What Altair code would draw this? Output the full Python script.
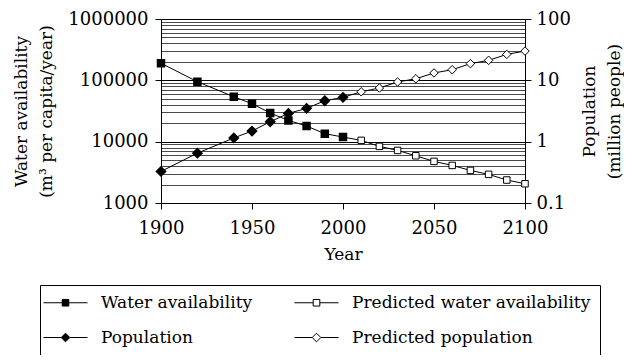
import altair as alt
import pandas as pd

# ---- data ----
hist_years = [1900, 1920, 1940, 1950, 1960, 1970, 1980, 1990, 2000]
pred_years = [2010, 2020, 2030, 2040, 2050, 2060, 2070, 2080, 2090, 2100]
water_hist = [190000, 95000, 54000, 41600, 29300, 22200, 18000, 13500, 11900]
water_pred = [10500, 8380, 7200, 5890, 4770, 4100, 3400, 2930, 2370, 2060]
pop_hist = [0.327, 0.65, 1.15, 1.49, 2.11, 2.89, 3.49, 4.65, 5.28]
pop_pred = [6.5, 7.5, 9.4, 10.6, 13.2, 14.9, 18.7, 21.2, 26.5, 30.0]
series_names = ["Water availability", "Predicted water availability",
                "Population", "Predicted population"]
x_ticks = [1900, 1950, 2000, 2050, 2100]
water_major = [1000, 10000, 100000, 1000000]
pop_ticks = [0.1, 1, 10, 100]

FONT = "DejaVu Serif"
FS = 18
TFS = 17

water = pd.DataFrame({
    "year": hist_years + pred_years,
    "value": water_hist + water_pred,
    "kind": ["hist"] * len(hist_years) + ["pred"] * len(pred_years),
})
pop = pd.DataFrame({
    "year": hist_years + pred_years,
    "value": pop_hist + pop_pred,
    "kind": ["hist"] * len(hist_years) + ["pred"] * len(pred_years),
})

water_grid_vals = [m * 10 ** e for e in range(3, 6) for m in range(1, 10)] + [1000000]
MAJ = "indexof([" + ",".join(str(v) for v in water_major) + "], datum.value) >= 0"

x_enc = alt.X(
    "year:Q",
    scale=alt.Scale(domain=[1900, 2100], nice=False, zero=False),
    axis=alt.Axis(values=x_ticks, format="d", title="Year", grid=False,
                  labelFont=FONT, labelFontSize=FS, labelColor="black",
                  titleFont=FONT, titleFontSize=TFS, titleFontWeight="normal",
                  titleColor="black", domainColor="black", tickColor="black",
                  tickSize=6, labelPadding=10, titlePadding=9, labelFlush=False),
)

y_water = alt.Y(
    "value:Q",
    scale=alt.Scale(type="log", domain=[1000, 1000000], nice=False),
    axis=alt.Axis(
        orient="left", values=water_grid_vals, format="d",
        labelExpr=MAJ + " ? datum.label : ''", labelOverlap=False,
        grid=True,
        gridColor={"condition": {"test": MAJ, "value": "black"}, "value": "#4a4a4a"},
        gridWidth=1,
        tickOpacity={"condition": {"test": MAJ, "value": 1}, "value": 0},
        tickColor="black", tickSize=6, domainColor="black",
        labelFont=FONT, labelFontSize=FS, labelColor="black", labelPadding=7,
        title=["Water availability", "(m³ per capita/year)"],
        titleFont=FONT, titleFontSize=TFS, titleFontWeight="normal",
        titleColor="black", titlePadding=12, titleLineHeight=25,
    ),
)

y_pop = alt.Y(
    "value:Q",
    scale=alt.Scale(type="log", domain=[0.1, 100], nice=False),
    axis=alt.Axis(
        orient="right", values=pop_ticks, format="~g", grid=False,
        labelOverlap=False, tickColor="black", tickSize=6, domainColor="black",
        labelFont=FONT, labelFontSize=FS, labelColor="black", labelPadding=5,
        title=["Population", "(million people)"], titleAngle=270,
        titleFont=FONT, titleFontSize=TFS, titleFontWeight="normal",
        titleColor="black", titlePadding=3, titleLineHeight=25,
    ),
)

base_w = alt.Chart(water)
water_layer = alt.layer(
    base_w.mark_line(color="black", strokeWidth=1).encode(x=x_enc, y=y_water),
    base_w.transform_filter("datum.kind == 'hist'").mark_point(
        shape="square", filled=True, fill="black", stroke="black", size=42, opacity=1
    ).encode(x=x_enc, y=y_water),
    base_w.transform_filter("datum.kind == 'pred'").mark_point(
        shape="square", filled=True, fill="white", stroke="black", strokeWidth=1,
        size=42, opacity=1
    ).encode(x=x_enc, y=y_water),
)

base_p = alt.Chart(pop)
pop_layer = alt.layer(
    base_p.mark_line(color="black", strokeWidth=1).encode(x=x_enc, y=y_pop),
    base_p.transform_filter("datum.kind == 'hist'").mark_point(
        shape="diamond", filled=True, fill="black", stroke="black", size=72, opacity=1
    ).encode(x=x_enc, y=y_pop),
    base_p.transform_filter("datum.kind == 'pred'").mark_point(
        shape="diamond", filled=True, fill="white", stroke="black", strokeWidth=1,
        size=72, opacity=1
    ).encode(x=x_enc, y=y_pop),
)

# legend symbols: short line with marker (unit box 12px, path reaches +-22px)
SQ = "M-3.67,0H-0.55M0.55,0H3.67M-0.55,-0.55H0.55V0.55H-0.55Z"
DI = "M-3.67,0H-0.72M0.72,0H3.67M-0.72,0L0,-0.72L0.72,0L0,0.72Z"
leg = alt.Legend(
    title=None, orient="none", legendX=-121, legendY=266, columns=2,
    direction="horizontal",
    labelFont=FONT, labelFontSize=17, labelColor="black",
    symbolSize=144, symbolOffset=8, labelOffset=27,
    symbolStrokeColor="black", symbolStrokeWidth=1,
    symbolOpacity=1, strokeColor="black", fillColor="white", padding=9,
    rowPadding=17, columnPadding=39, labelLimit=400,
)
leg_df = pd.DataFrame({"series": series_names})
legend_layer = alt.Chart(leg_df).transform_filter("false").mark_point(
    filled=True, strokeWidth=1, size=144, opacity=1
).encode(
    shape=alt.Shape("series:N", scale=alt.Scale(domain=series_names, range=[SQ, SQ, DI, DI]), legend=leg),
    fill=alt.Fill("series:N", scale=alt.Scale(domain=series_names, range=["black", "white", "black", "white"]), legend=leg),
    stroke=alt.Stroke("series:N", scale=alt.Scale(domain=series_names, range=["black", "black", "black", "black"]), legend=leg),
)

chart = alt.layer(water_layer, pop_layer, legend_layer).resolve_scale(
    y="independent"
).properties(
    width=364, height=184, autosize="none",
    padding={"left": 153, "top": 11, "right": 99, "bottom": 152},
    background="white",
).configure_view(stroke=None)

chart.save("out.html", embed_options={"renderer": "svg", "actions": False})
